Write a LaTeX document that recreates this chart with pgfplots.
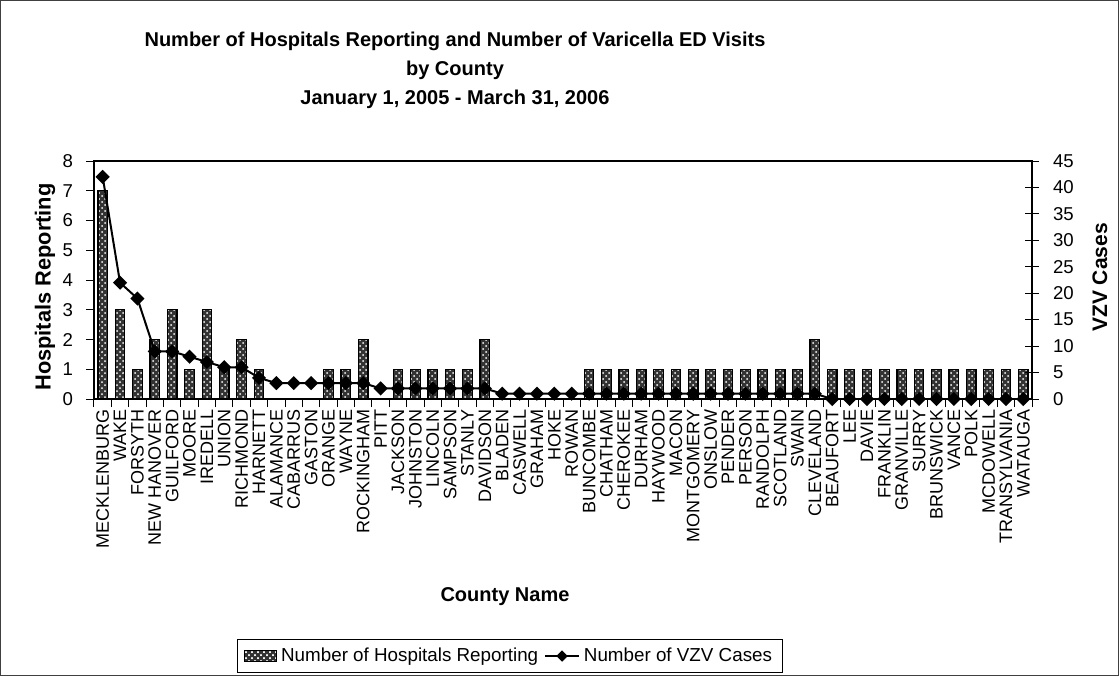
\documentclass[border=0pt]{standalone}
\usepackage{fontspec}
\setmainfont{Liberation Sans}
\usepackage{pgfplots}
\pgfplotsset{compat=1.18}
\usepackage{pgfplotstable}
\usetikzlibrary{patterns}

% x = category index, hosp = hospitals reporting, vzv = VZV cases
\pgfplotstableread{
x hosp vzv
1 7 42
2 3 22
3 1 19
4 2 9
5 3 9
6 1 8
7 3 7
8 1 6
9 2 6
10 1 4
11 0 3
12 0 3
13 0 3
14 1 3
15 1 3
16 2 3
17 0 2
18 1 2
19 1 2
20 1 2
21 1 2
22 1 2
23 2 2
24 0 1
25 0 1
26 0 1
27 0 1
28 0 1
29 1 1
30 1 1
31 1 1
32 1 1
33 1 1
34 1 1
35 1 1
36 1 1
37 1 1
38 1 1
39 1 1
40 1 1
41 1 1
42 2 1
43 1 0
44 1 0
45 1 0
46 1 0
47 1 0
48 1 0
49 1 0
50 1 0
51 1 0
52 1 0
53 1 0
54 1 0
}\countydata

\begin{document}
\begin{tikzpicture}
\useasboundingbox (-47pt,-138.5pt) rectangle (512.5pt,199.5pt);
\draw[black!75, line width=0.6pt] (-46.7pt,-138.2pt) rectangle (512.2pt,199.2pt);

\pgfplotsset{
  basestyle/.style={
    at={(0,0)}, anchor=south west,
    scale only axis, width=469pt, height=119pt,
    xmin=0.5, xmax=54.5,
    /pgf/number format/assume math mode=true,
    ticklabel style={font=\fontsize{9.3}{9.3}\selectfont},
    tick style={black, line width=0.5pt},
    axis line style={line width=0.6pt},
  }
}

\begin{axis}[
  basestyle,
  ymin=0, ymax=8,
  ytick={0,...,8},
  ytick pos=left, xtick pos=bottom,
  tick align=outside,
  major tick length=4pt,
  yticklabel style={xshift=-3pt},
  xtick={1,...,54},
  xticklabels={MECKLENBURG,WAKE,FORSYTH,NEW HANOVER,GUILFORD,MOORE,IREDELL,UNION,RICHMOND,HARNETT,ALAMANCE,CABARRUS,GASTON,ORANGE,WAYNE,ROCKINGHAM,PITT,JACKSON,JOHNSTON,LINCOLN,SAMPSON,STANLY,DAVIDSON,BLADEN,CASWELL,GRAHAM,HOKE,ROWAN,BUNCOMBE,CHATHAM,CHEROKEE,DURHAM,HAYWOOD,MACON,MONTGOMERY,ONSLOW,PENDER,PERSON,RANDOLPH,SCOTLAND,SWAIN,CLEVELAND,BEAUFORT,LEE,DAVIE,FRANKLIN,GRANVILLE,SURRY,BRUNSWICK,VANCE,POLK,MCDOWELL,TRANSYLVANIA,WATAUGA},
  xticklabel style={rotate=90, anchor=east, inner sep=1pt, font=\fontsize{9}{9}\selectfont},
  major x tick style={draw=none},
  minor xtick={0.5,1.5,...,54.5},
  minor tick length=4pt,
  minor x tick style={black, line width=0.5pt},
  legend columns=2,
  legend style={at={(0.4435,-1.08)}, anchor=center, draw=black, line width=0.5pt,
    font=\fontsize{9.4}{11}\selectfont, inner xsep=3pt, inner ysep=2pt,
    nodes={inner xsep=2pt},
    /tikz/every even column/.append style={column sep=1pt}},
  legend cell align=left,
]
\addplot[ybar, bar width=0.55, fill=black!80, draw=black, line width=0.6pt,
  postaction={pattern=crosshatch dots, pattern color=white},
  legend image code/.code={\draw[fill=black!80, draw=black, postaction={pattern=crosshatch dots, pattern color=white}] (0pt,-2.7pt) rectangle (16pt,2.7pt);}]
  table[x=x, y=hosp]{\countydata};
\addlegendentry{Number of Hospitals Reporting}
\addlegendimage{black, line width=0.8pt, mark=square*, mark options={rotate=45}, mark size=1.6pt}
\addlegendentry{Number of VZV Cases}
\end{axis}

\begin{axis}[
  basestyle,
  ymin=0, ymax=45,
  ytick={0,5,...,45},
  axis y line*=right, axis x line=none,
  tick align=center,
  major tick length=7pt,
  yticklabel style={xshift=3.5pt},
]
\addplot[black, line width=1pt, mark=square*, mark options={rotate=45}, mark size=2pt]
  table[x=x, y=vzv]{\countydata};
\end{axis}

\node[font=\bfseries\fontsize{10}{14.5}\selectfont, align=center] at (180.5pt,164.5pt)
  {Number of Hospitals Reporting and Number of Varicella ED Visits\\ by County\\ January 1, 2005 - March 31, 2006};
\node[font=\bfseries\fontsize{10.9}{12}\selectfont, rotate=90] at (-24.5pt,56pt) {Hospitals Reporting};
\node[font=\bfseries\fontsize{10.5}{12}\selectfont, rotate=90] at (503pt,60.75pt) {VZV Cases};
\node[font=\bfseries\fontsize{10}{12}\selectfont] at (205.5pt,-99pt) {County Name};
\end{tikzpicture}
\end{document}
